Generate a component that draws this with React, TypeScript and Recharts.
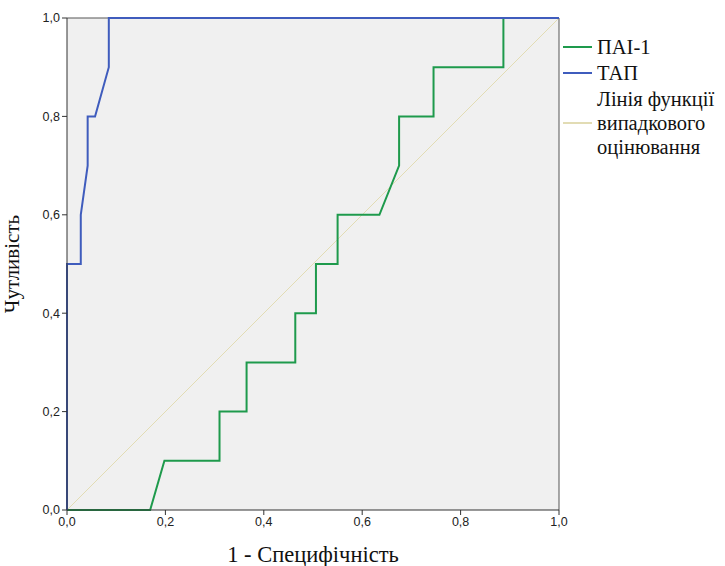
import React from "react";
import {
  CartesianGrid,
  Line,
  LineChart,
  ReferenceLine,
  XAxis,
  YAxis
} from "recharts";

// ROC curve points (1 - specificity, sensitivity)
const tapX = [0, 0, 0.028, 0.028, 0.042, 0.042, 0.057, 0.085, 0.085, 1];
const tapY = [0, 0.5, 0.5, 0.6, 0.7, 0.8, 0.8, 0.9, 1, 1];

const paiX = [
  0, 0.169, 0.198, 0.31, 0.31, 0.365, 0.365, 0.464, 0.464, 0.506, 0.506, 0.55,
  0.55, 0.635, 0.675, 0.675, 0.745, 0.745, 0.887, 0.887, 1
];
const paiY = [
  0, 0, 0.1, 0.1, 0.2, 0.2, 0.3, 0.3, 0.4, 0.4, 0.5, 0.5, 0.6, 0.6, 0.7, 0.8,
  0.8, 0.9, 0.9, 1, 1
];

const refX = [0, 1];
const refY = [0, 1];

const ticks = [0, 0.2, 0.4, 0.6, 0.8, 1];

const seriesNames = ["ПАІ-1", "ТАП", "Лінія функції випадкового оцінювання"];

const GREEN = "#1e9a4c";
const BLUE = "#3f5cbd";
const BEIGE = "#e2dcb4";

const toPoints = (xs: number[], ys: number[]) => xs.map((x, i) => ({ x, y: ys[i] }));

const fmt = (v: number) => v.toFixed(1).replace(".", ",");

const tickStyle = { fontFamily: "'Liberation Sans', Arial, sans-serif", fontSize: 12.5, fill: "#222" };
const titleFont = "'Liberation Serif', 'DejaVu Serif', serif";

function LegendBox() {
  const items = [
    { color: GREEN, lines: [seriesNames[0]], y: 47 },
    { color: BLUE, lines: [seriesNames[1]], y: 73 },
    { color: BEIGE, lines: ["Лінія функції", "випадкового", "оцінювання"], y: 123 }
  ];
  return (
    <svg
      width={165}
      height={170}
      style={{ position: "absolute", left: 560, top: 0 }}
    >
      {items.map((it, i) => (
        <g key={i}>
          <line x1={3} x2={32} y1={it.y} y2={it.y} stroke={it.color} strokeWidth={2} />
          {it.lines.map((t, j) => (
            <text
              key={j}
              x={37}
              y={it.y + (j - (it.lines.length - 1) / 2) * 24}
              dominantBaseline="central"
              style={{ fontFamily: titleFont, fontSize: 20.5 }}
              fill="#111"
            >
              {t}
            </text>
          ))}
        </g>
      ))}
    </svg>
  );
}

export default function App() {
  return (
    <div style={{ position: "absolute", left: 0, top: 0, width: 725, height: 566, background: "#fff" }}>
      <LineChart
        width={725}
        height={566}
        margin={{ top: 18, right: 166, left: 0, bottom: 0 }}
      >
        <CartesianGrid fill="#f0f0f0" horizontal={false} vertical={false} />
        <XAxis
          type="number"
          dataKey="x"
          domain={[0, 1]}
          ticks={ticks}
          tickFormatter={fmt}
          height={56}
          tick={tickStyle}
          tickSize={5}
          stroke="#333"
          label={{
            value: "1 - Специфічність",
            position: "insideBottom",
            offset: 4,
            style: { fontFamily: titleFont, fontSize: 22.5, fill: "#111" }
          }}
        />
        <YAxis
          type="number"
          domain={[0, 1]}
          ticks={ticks}
          tickFormatter={fmt}
          width={67}
          tick={tickStyle}
          tickSize={5}
          stroke="#333"
          label={{
            value: "Чутливість",
            angle: -90,
            position: "insideLeft",
            offset: 12,
            style: { textAnchor: "middle", fontFamily: titleFont, fontSize: 21, fill: "#111" }
          }}
        />
        <ReferenceLine y={1} stroke="#555" />
        <ReferenceLine x={1} stroke="#555" />
        <Line
          data={toPoints(refX, refY)}
          dataKey="y"
          type="linear"
          stroke={BEIGE}
          strokeWidth={1}
          dot={false}
          isAnimationActive={false}
        />
        <Line
          data={toPoints(paiX, paiY)}
          dataKey="y"
          name={seriesNames[0]}
          type="linear"
          stroke={GREEN}
          strokeWidth={2}
          dot={false}
          isAnimationActive={false}
        />
        <Line
          data={toPoints(tapX, tapY)}
          dataKey="y"
          name={seriesNames[1]}
          type="linear"
          stroke={BLUE}
          strokeWidth={2}
          dot={false}
          isAnimationActive={false}
        />
      </LineChart>
      <LegendBox />
    </div>
  );
}
